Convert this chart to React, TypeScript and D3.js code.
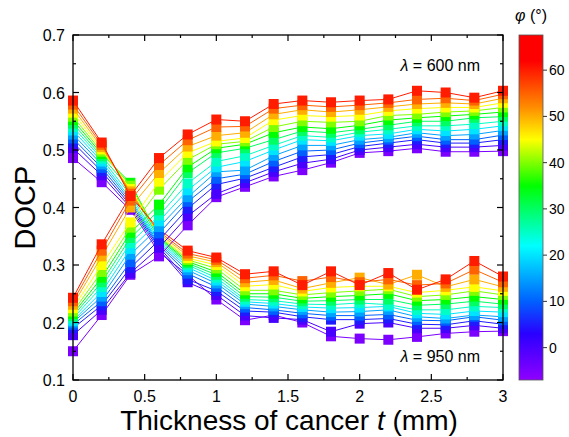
import * as d3 from "d3";

// thickness of cancer layer (mm)
const thickness = [0, 0.2, 0.4, 0.6, 0.8, 1.0, 1.2, 1.4, 1.6, 1.8, 2.0, 2.2, 2.4, 2.6, 2.8, 3.0];
// orientation angle of each curve (deg)
const phiValues = [-5, 0, 5, 10, 15, 20, 25, 30, 35, 40, 45, 50, 55, 60];

// one row per thickness, one entry per phi (same order as phiValues)
const docp950 = [
  [0.486, 0.503, 0.513, 0.520, 0.527, 0.534, 0.540, 0.546, 0.552, 0.558, 0.565, 0.572, 0.579, 0.586],
  [0.444, 0.456, 0.463, 0.469, 0.475, 0.480, 0.485, 0.489, 0.493, 0.497, 0.501, 0.505, 0.509, 0.513],
  [0.396, 0.400, 0.404, 0.408, 0.412, 0.416, 0.422, 0.432, 0.443, 0.438, 0.432, 0.428, 0.424, 0.420],
  [0.322, 0.327, 0.331, 0.334, 0.337, 0.340, 0.343, 0.346, 0.348, 0.350, 0.352, 0.355, 0.358, 0.362],
  [0.283, 0.270, 0.275, 0.285, 0.291, 0.296, 0.300, 0.303, 0.306, 0.309, 0.312, 0.316, 0.320, 0.325],
  [0.240, 0.248, 0.255, 0.262, 0.268, 0.273, 0.278, 0.283, 0.288, 0.294, 0.300, 0.305, 0.309, 0.313],
  [0.204, 0.212, 0.220, 0.226, 0.232, 0.236, 0.240, 0.245, 0.250, 0.256, 0.263, 0.270, 0.277, 0.284],
  [0.213, 0.208, 0.218, 0.222, 0.228, 0.233, 0.238, 0.244, 0.250, 0.256, 0.266, 0.274, 0.282, 0.289],
  [0.200, 0.205, 0.210, 0.216, 0.222, 0.227, 0.232, 0.237, 0.242, 0.248, 0.254, 0.259, 0.272, 0.265],
  [0.176, 0.184, 0.205, 0.212, 0.218, 0.225, 0.231, 0.238, 0.245, 0.252, 0.261, 0.269, 0.279, 0.289],
  [0.172, 0.198, 0.205, 0.212, 0.219, 0.226, 0.234, 0.240, 0.247, 0.255, 0.263, 0.278, 0.270, 0.265],
  [0.170, 0.200, 0.207, 0.214, 0.222, 0.228, 0.231, 0.240, 0.250, 0.258, 0.263, 0.266, 0.275, 0.286],
  [0.175, 0.190, 0.197, 0.204, 0.210, 0.216, 0.222, 0.230, 0.238, 0.245, 0.252, 0.283, 0.265, 0.257],
  [0.181, 0.190, 0.196, 0.203, 0.207, 0.214, 0.222, 0.232, 0.240, 0.248, 0.256, 0.262, 0.268, 0.275],
  [0.184, 0.195, 0.203, 0.210, 0.213, 0.220, 0.228, 0.237, 0.245, 0.255, 0.262, 0.275, 0.292, 0.307],
  [0.185, 0.190, 0.197, 0.204, 0.210, 0.218, 0.226, 0.232, 0.240, 0.248, 0.255, 0.262, 0.270, 0.280],
];

const docp600 = [
  [0.150, 0.178, 0.190, 0.196, 0.200, 0.203, 0.207, 0.211, 0.215, 0.219, 0.225, 0.231, 0.237, 0.243],
  [0.213, 0.222, 0.230, 0.237, 0.245, 0.253, 0.262, 0.270, 0.278, 0.288, 0.300, 0.315, 0.325, 0.336],
  [0.283, 0.286, 0.295, 0.305, 0.318, 0.328, 0.338, 0.347, 0.356, 0.365, 0.374, 0.400, 0.412, 0.420],
  [0.315, 0.330, 0.343, 0.355, 0.366, 0.376, 0.386, 0.395, 0.405, 0.431, 0.445, 0.460, 0.474, 0.486],
  [0.369, 0.385, 0.398, 0.410, 0.418, 0.430, 0.442, 0.460, 0.470, 0.483, 0.495, 0.506, 0.517, 0.527],
  [0.418, 0.424, 0.440, 0.450, 0.462, 0.470, 0.480, 0.495, 0.503, 0.510, 0.515, 0.525, 0.540, 0.553],
  [0.436, 0.443, 0.451, 0.458, 0.465, 0.480, 0.490, 0.503, 0.510, 0.515, 0.521, 0.530, 0.541, 0.550],
  [0.454, 0.462, 0.470, 0.480, 0.490, 0.500, 0.508, 0.518, 0.530, 0.540, 0.552, 0.562, 0.572, 0.580],
  [0.465, 0.477, 0.488, 0.498, 0.508, 0.518, 0.525, 0.533, 0.540, 0.550, 0.560, 0.570, 0.578, 0.586],
  [0.478, 0.484, 0.492, 0.500, 0.508, 0.516, 0.522, 0.530, 0.537, 0.548, 0.558, 0.566, 0.575, 0.583],
  [0.495, 0.500, 0.506, 0.512, 0.518, 0.525, 0.531, 0.536, 0.543, 0.550, 0.560, 0.570, 0.578, 0.586],
  [0.498, 0.505, 0.512, 0.518, 0.522, 0.528, 0.536, 0.543, 0.552, 0.560, 0.568, 0.575, 0.582, 0.588],
  [0.503, 0.510, 0.518, 0.524, 0.530, 0.536, 0.542, 0.550, 0.556, 0.562, 0.572, 0.580, 0.588, 0.603],
  [0.497, 0.505, 0.512, 0.518, 0.525, 0.533, 0.542, 0.550, 0.559, 0.566, 0.574, 0.582, 0.590, 0.600],
  [0.497, 0.505, 0.512, 0.518, 0.527, 0.536, 0.545, 0.556, 0.562, 0.568, 0.574, 0.580, 0.586, 0.591],
  [0.498, 0.508, 0.518, 0.526, 0.534, 0.542, 0.550, 0.558, 0.566, 0.574, 0.582, 0.590, 0.597, 0.603],
];

const xTicks = [0, 0.5, 1, 1.5, 2, 2.5, 3];
const yTicks = [0.1, 0.2, 0.3, 0.4, 0.5, 0.6, 0.7];
const phiTicks = [0, 10, 20, 30, 40, 50, 60];

// rainbow colour map of the colour bar
const cmapStops = [-7, 3, 10, 22, 35, 45, 52, 62, 67.6];
const cmapColors = ["#8f00ff", "#2a00ff", "#0060ff", "#00ffff", "#00ff00", "#ffff00", "#ff8c00", "#ff0000", "#ff0000"];

const W = 569;
const H = 437;
const left = 73, right = 503, top = 35, bottom = 380;
const font = "Arial, 'Liberation Sans', sans-serif";

export default function App() {
  const x = d3.scaleLinear().domain([0, 3]).range([left, right]);
  const y = d3.scaleLinear().domain([0.1, 0.7]).range([bottom, top]);
  const color = d3.scaleLinear<string>().domain(cmapStops).range(cmapColors).interpolate(d3.interpolateRgb);
  const cb = d3.scaleLinear().domain([-7, 67.6]).range([bottom, top]);
  const line = d3.line<[number, number]>().x((d) => x(d[0])).y((d) => y(d[1]));

  const series = (table: number[][]) =>
    phiValues.map((phi, i) => ({
      phi,
      pts: thickness.map((t, j) => [t, table[j][i]] as [number, number]),
    }));

  const groups = [series(docp950), series(docp600)];
  const sq = 10;

  const xMinor = d3.range(0.25, 3, 0.5);
  const yMinor = d3.range(0.15, 0.7, 0.1);

  return (
    <svg width={W} height={H} style={{ position: "absolute", left: 0, top: 0, background: "#fff" }} fontFamily={font}>
      <defs>
        <linearGradient id="cbar" x1="0" y1="1" x2="0" y2="0">
          {cmapStops.map((s, i) => (
            <stop key={i} offset={(s + 7) / 74.6} stopColor={cmapColors[i]} />
          ))}
        </linearGradient>
      </defs>

      {groups.map((g, gi) =>
        g.map((s) => (
          <g key={`${gi}-${s.phi}`}>
            <path d={line(s.pts) || ""} fill="none" stroke={color(s.phi)} strokeWidth={1} />
            {s.pts.map((p, k) => (
              <rect key={k} x={x(p[0]) - sq / 2} y={y(p[1]) - sq / 2} width={sq} height={sq} fill={color(s.phi)} />
            ))}
          </g>
        ))
      )}

      <rect x={left} y={top} width={right - left} height={bottom - top} fill="none" stroke="#000" strokeWidth={1.3} />

      {xTicks.map((t) => (
        <g key={`xt${t}`}>
          <line x1={x(t)} x2={x(t)} y1={bottom} y2={bottom - 6} stroke="#000" strokeWidth={1.2} />
          <line x1={x(t)} x2={x(t)} y1={top} y2={top + 6} stroke="#000" strokeWidth={1.2} />
          <text x={x(t)} y={bottom + 22} fontSize={16} textAnchor="middle">{t}</text>
        </g>
      ))}
      {xMinor.map((t) => (
        <g key={`xm${t}`}>
          <line x1={x(t)} x2={x(t)} y1={bottom} y2={bottom - 3} stroke="#000" strokeWidth={1.2} />
          <line x1={x(t)} x2={x(t)} y1={top} y2={top + 3} stroke="#000" strokeWidth={1.2} />
        </g>
      ))}
      {yTicks.map((v) => (
        <g key={`yt${v}`}>
          <line x1={left} x2={left + 6} y1={y(v)} y2={y(v)} stroke="#000" strokeWidth={1.2} />
          <line x1={right} x2={right - 6} y1={y(v)} y2={y(v)} stroke="#000" strokeWidth={1.2} />
          <text x={left - 8} y={y(v) + 6} fontSize={16} textAnchor="end">{v.toFixed(1)}</text>
        </g>
      ))}
      {yMinor.map((v) => (
        <g key={`ym${v}`}>
          <line x1={left} x2={left + 3} y1={y(v)} y2={y(v)} stroke="#000" strokeWidth={1.2} />
          <line x1={right} x2={right - 3} y1={y(v)} y2={y(v)} stroke="#000" strokeWidth={1.2} />
        </g>
      ))}

      <text x={(left + right) / 2 + 1} y={430} fontSize={28} textAnchor="middle">
        Thickness of cancer <tspan fontStyle="italic">t</tspan> (mm)
      </text>
      <text transform={`translate(35,${(top + bottom) / 2}) rotate(-90)`} fontSize={29} textAnchor="middle">DOCP</text>

      <text x={480} y={71} fontSize={16} textAnchor="end">
        <tspan fontStyle="italic">λ</tspan> = 600 nm
      </text>
      <text x={480} y={362} fontSize={16} textAnchor="end">
        <tspan fontStyle="italic">λ</tspan> = 950 nm
      </text>

      <rect x={519} y={top} width={24} height={bottom - top} fill="url(#cbar)" stroke="#555" strokeWidth={0.8} />
      {phiTicks.map((p) => (
        <g key={`cb${p}`}>
          <line x1={543} x2={547} y1={cb(p)} y2={cb(p)} stroke="#333" strokeWidth={1} />
          <text x={549} y={cb(p) + 5} fontSize={14}>{p}</text>
        </g>
      ))}
      <text x={531} y={21} fontSize={16} textAnchor="middle">
        <tspan fontStyle="italic">φ</tspan> (°)
      </text>
    </svg>
  );
}
